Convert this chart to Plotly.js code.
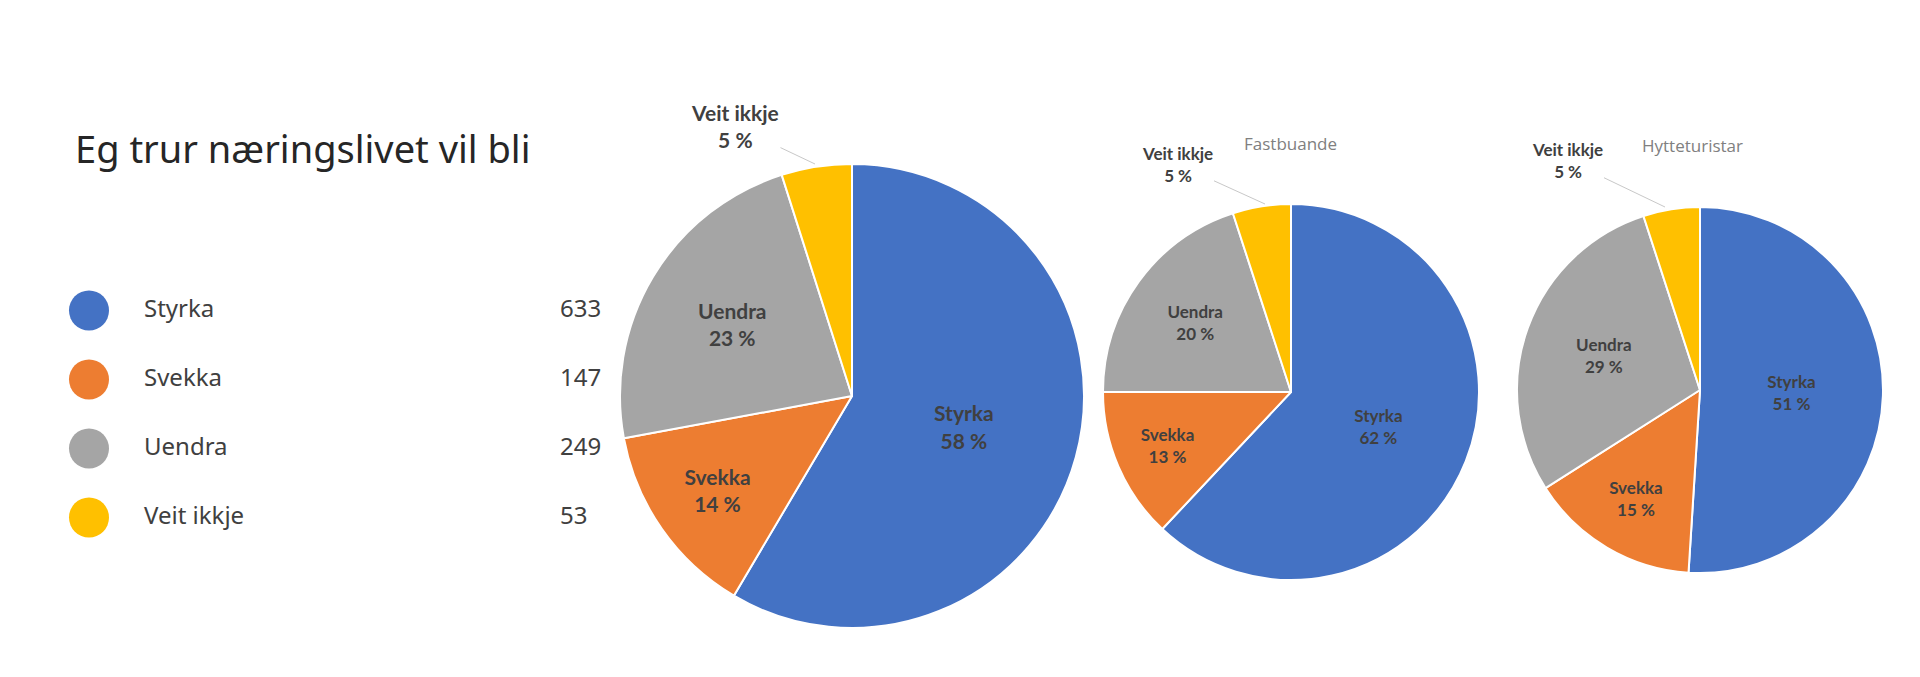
<!DOCTYPE html>
<html>
<head>
<meta charset="utf-8">
<script src="https://cdn.plot.ly/plotly-3.0.1.min.js"></script>
<style>
  html, body { margin: 0; padding: 0; background: #fff; }
  #chart { width: 1920px; height: 677px; }
</style>
</head>
<body>
<div id="chart"></div>
<script>
// data
const categories = ['Styrka', 'Svekka', 'Uendra', 'Veit ikkje'];
const counts = [633, 147, 249, 53];
const pctAlle = [58, 14, 23, 5];
const pctFastbuande = [62, 13, 20, 5];
const pctHytteturistar = [51, 15, 29, 5];
const colors = ['#4472C4', '#ED7D31', '#A5A5A5', '#FFC000'];
const chartTitle = 'Eg trur næringslivet vil bli';
const groupTitles = ['Fastbuande', 'Hytteturistar'];

const W = 1920, H = 677;
const px = x => x / W;
const py = y => 1 - y / H;

// pie domain from centre + radius in pixels
function dom(cx, cy, r) {
  return {x: [px(cx - r), px(cx + r)], y: [py(cy + r), py(cy - r)]};
}

function pieTrace(values, pcts, domain, fontSize) {
  return {
    type: 'pie',
    values: values,
    labels: categories,
    customdata: pcts,
    sort: false,
    direction: 'clockwise',
    rotation: 0,
    domain: domain,
    marker: {colors: colors, line: {color: '#ffffff', width: 2}},
    texttemplate: categories.map((c, i) => i === 3 ? '' : '<b>%{label}</b><br><b>%{customdata} %</b>'),
    textposition: ['inside', 'inside', 'inside', 'none'],
    insidetextorientation: 'horizontal',
    insidetextfont: {family: 'Lato', size: fontSize, color: '#404040'},
    hoverinfo: 'none',
    showlegend: false
  };
}

const pies = [
  pieTrace(counts, pctAlle, dom(852, 396, 232), 21),
  pieTrace(pctFastbuande, pctFastbuande, dom(1291, 392, 188), 17),
  pieTrace(pctHytteturistar, pctHytteturistar, dom(1700, 390, 183), 17)
];

// legend on the left, drawn as scatter traces
const legendFont = {family: 'Noto Sans', size: 24, color: '#404040'};
const legendMarkers = {
  type: 'scatter', mode: 'markers',
  x: categories.map(() => 89), y: categories,
  marker: {size: 40, color: colors},
  hoverinfo: 'none', showlegend: false
};
const legendLabels = {
  type: 'scatter', mode: 'text',
  x: categories.map(() => 144), y: categories,
  text: categories, textposition: 'middle right', textfont: legendFont,
  hoverinfo: 'none', showlegend: false
};
const legendCounts = {
  type: 'scatter', mode: 'text',
  x: categories.map(() => 560), y: categories,
  text: counts.map(String), textposition: 'middle right', textfont: legendFont,
  hoverinfo: 'none', showlegend: false
};

function smallLabel(pcts, tipX, tipY, ax, ay, size) {
  return {
    xref: 'paper', yref: 'paper', x: px(tipX), y: py(tipY),
    text: '<b>' + categories[3] + '</b><br><b>' + pcts[3] + ' %</b>',
    showarrow: true, arrowhead: 0, arrowwidth: 1, arrowcolor: '#c8c8c8',
    ax: ax, ay: ay,
    font: {family: 'Lato', size: size, color: '#404040'}
  };
}

const layout = {
  width: W, height: H,
  margin: {l: 0, r: 0, t: 0, b: 0},
  paper_bgcolor: '#ffffff',
  plot_bgcolor: 'rgba(0,0,0,0)',
  xaxis: {range: [0, W], domain: [0, 1], visible: false, fixedrange: true},
  yaxis: {type: 'category', categoryarray: categories, range: [3.5, -0.5],
          domain: [py(552), py(276)], visible: false, fixedrange: true},
  annotations: [
    {xref: 'paper', yref: 'paper', x: px(73), y: py(148), xanchor: 'left', yanchor: 'middle',
     text: chartTitle, showarrow: false,
     font: {family: 'Noto Sans', size: 38, color: '#262626'}},
    {xref: 'paper', yref: 'paper', x: px(1242), y: py(143), xanchor: 'left', yanchor: 'middle',
     text: groupTitles[0], showarrow: false,
     font: {family: 'Open Sans', size: 17, color: '#808080'}},
    {xref: 'paper', yref: 'paper', x: px(1640), y: py(145), xanchor: 'left', yanchor: 'middle',
     text: groupTitles[1], showarrow: false,
     font: {family: 'Open Sans', size: 17, color: '#808080'}},
    smallLabel(pctAlle, 815, 164, -80, -38, 21),
    smallLabel(pctFastbuande, 1265, 204, -88, -40, 17),
    smallLabel(pctHytteturistar, 1665, 207, -98, -47, 17)
  ]
};

Plotly.newPlot('chart', [legendMarkers, legendLabels, legendCounts].concat(pies), layout,
  {displayModeBar: false, staticPlot: true});
</script>
</body>
</html>
